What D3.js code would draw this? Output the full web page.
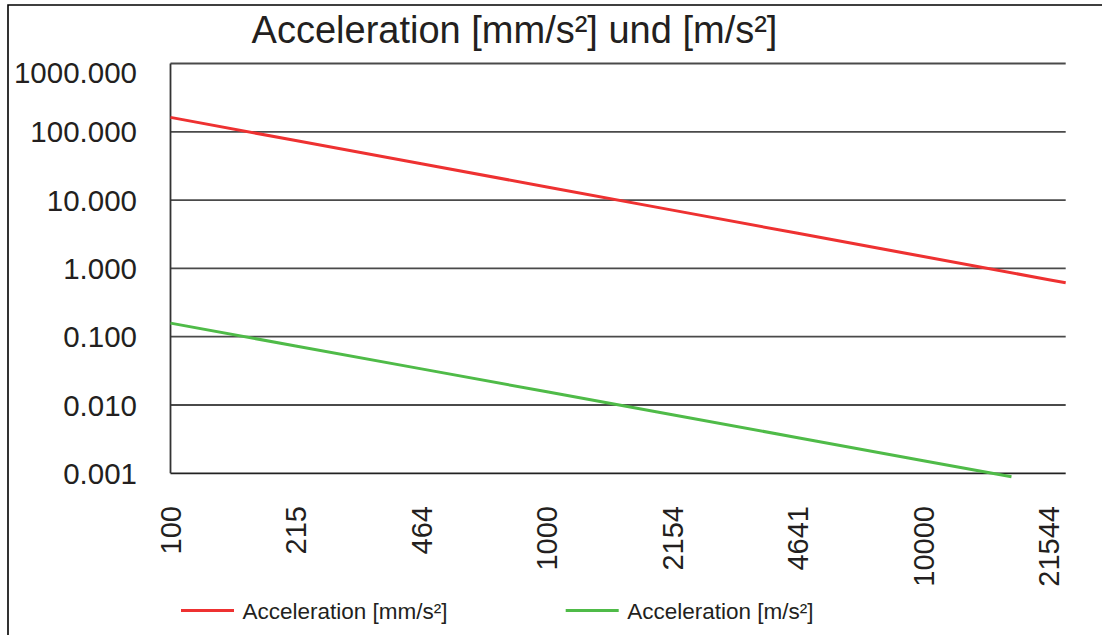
<!DOCTYPE html>
<html><head><meta charset="utf-8">
<script src="https://cdn.jsdelivr.net/npm/d3@7"></script>
<style>
html,body{margin:0;padding:0;background:#fff;}
svg{display:block;font-family:"Liberation Sans",Arial,Helvetica,sans-serif;}
</style></head>
<body>
<svg id="c" width="1102" height="635"></svg>
<script>
const title = "Acceleration [mm/s²] und [m/s²]";
const xTickValues = [100, 215, 464, 1000, 2154, 4641, 10000, 21544];
const xTickLabels = ["100", "215", "464", "1000", "2154", "4641", "10000", "21544"];
const yTickValues = [0.001, 0.01, 0.1, 1, 10, 100, 1000];
const yTickLabels = ["0.001", "0.010", "0.100", "1.000", "10.000", "100.000", "1000.000"];
const seriesNames = ["Acceleration [mm/s²]", "Acceleration [m/s²]"];
const seriesColors = ["#ee3131", "#4fbb48"];
const redX = [100, 215, 464, 1000, 2154, 4641, 10000, 21544, 23880];
const redY = [162.6, 74.4, 34.0, 15.6, 7.13, 3.26, 1.49, 0.683, 0.615];
const greenX = [100, 215, 464, 1000, 2154, 4641, 10000, 17140];
const greenY = [0.158, 0.0731, 0.0338, 0.0156, 0.0072, 0.00332, 0.00153, 0.00089];

const svg = d3.select("#c");
const L = 170.5, R = 1065.7, T = 63.5, B = 473.3;
const x = d3.scaleLog().domain([100, 23880]).range([L, R]);
const y = d3.scaleLog().domain([0.001, 1000]).range([B, T]);
const txt = "#231f20";

// outer frame (top and left visible)
svg.append("path").attr("d", "M8,635 V5 H1102").attr("fill", "none").attr("stroke", "#000").attr("stroke-width", 1.6);

// title
svg.append("text").attr("x", 514.5).attr("y", 43).attr("text-anchor", "middle")
  .attr("font-size", 38).attr("fill", txt).text(title);

// horizontal grid
svg.append("g").selectAll("line").data(yTickValues).join("line")
  .attr("x1", L).attr("x2", R).attr("y1", d => y(d)).attr("y2", d => y(d))
  .attr("stroke", d => d === 0.001 ? "#222" : "#4a4a4a").attr("stroke-width", 1.8);

// left axis line
svg.append("line").attr("x1", L).attr("x2", L).attr("y1", T).attr("y2", B)
  .attr("stroke", "#333").attr("stroke-width", 1.8);

// y labels
svg.append("g").selectAll("text").data(yTickValues).join("text")
  .attr("x", 137).attr("y", d => Math.max(y(d), 72.5)).attr("dy", "0.36em")
  .attr("text-anchor", "end").attr("font-size", 29.5).attr("fill", txt)
  .text((d, i) => yTickLabels[i]);

// x labels (positions from the tick values)
const xl = svg.append("g");
xTickValues.forEach((v, i) => {
  const px = x(v);
  xl.append("text").attr("transform", `translate(${px},506) rotate(-90)`)
    .attr("text-anchor", "end").attr("dy", "0.36em").attr("font-size", 29).attr("fill", txt)
    .text(xTickLabels[i]);
});

// lines
const line = d3.line().x(d => x(d[0])).y(d => y(d[1]));
const redData = redX.map((v, i) => [v, redY[i]]);
const greenData = greenX.map((v, i) => [v, greenY[i]]);
svg.append("path").datum(redData).attr("d", line).attr("fill", "none")
  .attr("stroke", seriesColors[0]).attr("stroke-width", 3);
svg.append("path").datum(greenData).attr("d", line).attr("fill", "none")
  .attr("stroke", seriesColors[1]).attr("stroke-width", 3);

// legend
const legX = [181, 565.7];
seriesNames.forEach((n, i) => {
  svg.append("line").attr("x1", legX[i]).attr("x2", legX[i] + 53).attr("y1", 610.5).attr("y2", 610.5)
    .attr("stroke", seriesColors[i]).attr("stroke-width", 3);
  svg.append("text").attr("x", legX[i] + 61.5).attr("y", 619).attr("font-size", 22.5)
    .attr("fill", txt).text(n);
});
</script>
</body></html>
